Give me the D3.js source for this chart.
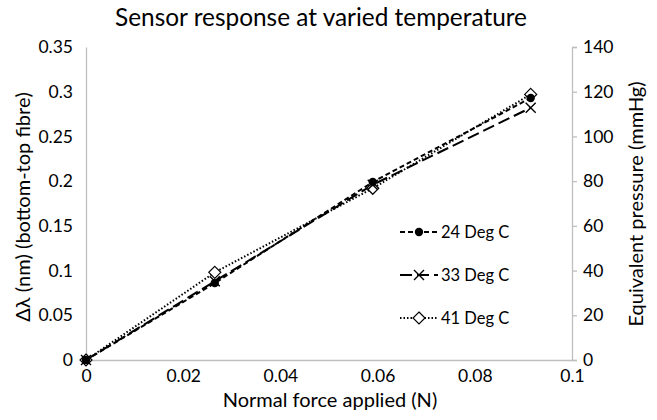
<!DOCTYPE html>
<html><head><meta charset="utf-8">
<script src="https://cdn.jsdelivr.net/npm/d3@7"></script>
<style>body{margin:0;background:#fff}svg text{font-family:Lato,"Open Sans",sans-serif;fill:#000}</style>
</head><body><svg id="c" width="657" height="420"></svg>
<script>
const forces = [0, 0.0265, 0.059, 0.0915];
const series24 = [0, 0.086, 0.199, 0.293];
const series33 = [0, 0.088, 0.196, 0.282];
const series41 = [0, 0.098, 0.192, 0.297];
const seriesNames = ["24 Deg C", "33 Deg C", "41 Deg C"];
const xTicks = [0, 0.02, 0.04, 0.06, 0.08, 0.1];
const yTicks = [0, 0.05, 0.1, 0.15, 0.2, 0.25, 0.3, 0.35];
const y2Ticks = [0, 20, 40, 60, 80, 100, 120, 140];

const svg = d3.select("#c");
const L = 86, R = 572, T = 47, B = 360;
const x = d3.scaleLinear().domain([0, 0.1]).range([L, R]);
const y = d3.scaleLinear().domain([0, 0.35]).range([B, T]);
const y2 = d3.scaleLinear().domain([0, 140]).range([B, T]);
const axisColor = "#bfbfbf";

const fmt = d => d === 0 ? "0" : String(+d.toFixed(2));
const gx = svg.append("g").attr("transform", `translate(0,${B})`)
  .call(d3.axisBottom(x).tickValues(xTicks).tickFormat(fmt).tickSize(0).tickPadding(10));
const gy = svg.append("g").attr("transform", `translate(${L},0)`)
  .call(d3.axisLeft(y).tickValues(yTicks).tickFormat(fmt).tickSize(0).tickPadding(13));
const gy2 = svg.append("g").attr("transform", `translate(${R},0)`)
  .call(d3.axisRight(y2).tickValues(y2Ticks).tickSize(5).tickPadding(6));
[gx, gy, gy2].forEach(g => {
  g.select(".domain").attr("stroke", axisColor).attr("stroke-width", 1.3);
  g.selectAll(".tick line").attr("stroke", axisColor).attr("stroke-width", 1.3);
  g.selectAll("text").attr("font-size", 17.5).attr("fill", "#000").attr("font-family", "Lato,'Open Sans',sans-serif");
});

const allSeries = [
  {name: seriesNames[0], vals: series24, dash: "5,3", marker: "dot"},
  {name: seriesNames[1], vals: series33, dash: "12,5", marker: "x"},
  {name: seriesNames[2], vals: series41, dash: "1.5,2", marker: "diamond"}
];
const line = d3.line().x(d => x(d[0])).y(d => y(d[1]));

function marker(g, type, cx, cy) {
  if (type === "dot") g.append("circle").attr("cx", cx).attr("cy", cy).attr("r", 4.2).attr("fill", "#000");
  else if (type === "x") g.append("path").attr("d", `M${cx-5},${cy-5}L${cx+5},${cy+5}M${cx-5},${cy+5}L${cx+5},${cy-5}`).attr("stroke", "#000").attr("stroke-width", 1.4);
  else g.append("path").attr("d", `M${cx},${cy-6}L${cx+6},${cy}L${cx},${cy+6}L${cx-6},${cy}Z`).attr("fill", "#fff").attr("stroke", "#000").attr("stroke-width", 1.2);
}

allSeries.forEach(s => {
  const pts = forces.map((f, i) => [f, s.vals[i]]);
  svg.append("path").attr("d", line(pts)).attr("fill", "none").attr("stroke", "#000")
    .attr("stroke-width", 2).attr("stroke-dasharray", s.dash);
});
allSeries.slice().reverse().forEach(s => {
  const g = svg.append("g");
  forces.forEach((f, i) => marker(g, s.marker, x(f), y(s.vals[i])));
});

// legend
const legY = [232, 275, 318];
allSeries.forEach((s, i) => {
  const g = svg.append("g");
  g.append("line").attr("x1", 400).attr("x2", 438).attr("y1", legY[i]).attr("y2", legY[i])
    .attr("stroke", "#000").attr("stroke-width", 2).attr("stroke-dasharray", s.dash);
  marker(g, s.marker, 419, legY[i]);
  g.append("text").attr("x", 441).attr("y", legY[i]).attr("dy", "0.35em").attr("font-size", 16.5).text(s.name);
});

svg.append("text").attr("x", 321).attr("y", 26).attr("text-anchor", "middle").attr("font-size", 24.4)
  .text("Sensor response at varied temperature");
svg.append("text").attr("x", 330).attr("y", 407).attr("text-anchor", "middle").attr("font-size", 20)
  .text("Normal force applied (N)");
svg.append("text").attr("transform", `translate(23,207) rotate(-90)`).attr("text-anchor", "middle")
  .attr("font-size", 20).attr("dy", "0.35em").text("Δλ (nm) (bottom-top fibre)");
svg.append("text").attr("transform", `translate(636,204) rotate(-90)`).attr("text-anchor", "middle")
  .attr("font-size", 20).attr("dy", "0.35em").text("Equivalent pressure (mmHg)");
</script></body></html>
